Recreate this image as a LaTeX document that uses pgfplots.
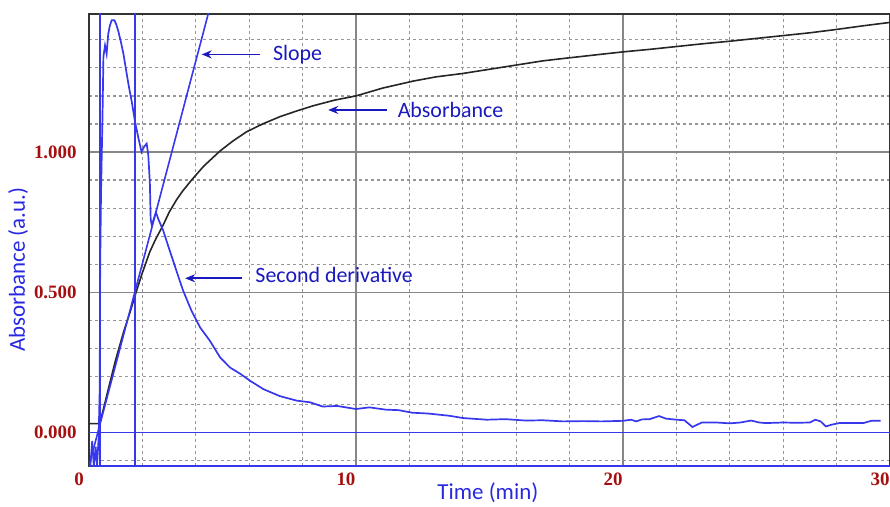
\documentclass[border=0pt]{standalone}
\usepackage{fontspec}
\setmainfont{Carlito}
\newfontfamily\tickfont{Liberation Serif}
\usepackage{pgfplots}
\pgfplotsset{compat=1.18}
\usetikzlibrary{arrows.meta}
\definecolor{lineblue}{RGB}{55,55,235}
\definecolor{textblue}{RGB}{25,25,190}
\definecolor{labelblue}{RGB}{40,40,225}
\definecolor{tickred}{RGB}{165,15,15}
\definecolor{gridgray}{RGB}{150,150,150}

\begin{document}
\begin{tikzpicture}
\begin{axis}[
    at={(0,0)}, anchor=south west,
    scale only axis, width=400.5bp, height=226bp,
    xmin=0, xmax=30, ymin=-0.119, ymax=1.492,
    xtick={0,10,20,30}, minor xtick={2,4,6,8,12,14,16,18,22,24,26,28},
    ytick={0,0.5,1}, minor ytick={-0.1,0.1,0.2,0.3,0.4,0.6,0.7,0.8,0.9,1.1,1.2,1.3,1.4},
    xticklabels={0,10,20,30}, yticklabels={0.000,0.500,1.000},
    major tick length=0pt, minor tick length=0pt,
    grid=both,
    major grid style={gridgray!90!black, line width=0.6bp},
    minor grid style={gridgray, line width=0.6bp, dash pattern=on 1.5bp off 1.5bp},
    axis line style={black!80, line width=0.9bp},
    tick label style={font=\tickfont\bfseries\fontsize{9.5}{10}\selectfont, text=tickred, inner sep=0pt},
    xticklabel style={anchor=north, xshift=-5bp, yshift=-3.5bp},
    yticklabel style={anchor=east, xshift=-6bp},
    xlabel={Time (min)}, ylabel={Absorbance (a.u.)},
    label style={font=\fontsize{11.5}{13}\selectfont, text=labelblue, inner sep=0pt},
    xlabel style={at={(axis description cs:0.498,0)}, anchor=center, yshift=-13.5bp},
    ylabel style={at={(axis description cs:-0.0886,0.434)}, anchor=center},
]
% absorbance
\addplot[black!85, line width=0.8bp] coordinates {
    (0,0.032) (0.40,0.032) (0.45,0.05) (0.79,0.18) (1.0,0.26) (1.3,0.36)
    (1.54,0.43) (1.78,0.505) (2.0,0.57) (2.28,0.645) (2.5,0.69) (2.78,0.74)
    (3.0,0.785) (3.28,0.83) (3.5,0.86) (3.84,0.90) (4.3,0.95) (4.91,1.004)
    (5.4,1.04) (5.9,1.072) (6.5,1.10) (7.15,1.126) (7.8,1.147) (8.4,1.165)
    (9.2,1.185) (10,1.20) (11,1.228) (12.15,1.253) (13,1.268) (14,1.28)
    (15,1.295) (16,1.31) (17,1.325) (18,1.336) (19.14,1.348) (20,1.357)
    (21,1.366) (22,1.376) (23,1.386) (24,1.395) (25,1.405) (26,1.415)
    (27,1.425) (28,1.437) (29,1.45) (30,1.462)
};
% second derivative
\addplot[lineblue, line width=0.85bp] coordinates {
    (0.05,-0.119) (0.12,-0.03) (0.18,-0.119) (0.25,-0.05) (0.3,-0.119)
    (0.36,-0.02) (0.40,0.15) (0.42,0.6) (0.45,0.85) (0.48,1.0) (0.51,1.15)
    (0.54,1.34) (0.60,1.38) (0.66,1.35) (0.72,1.42) (0.78,1.45) (0.85,1.47)
    (0.95,1.47) (1.02,1.455) (1.10,1.43) (1.2,1.39) (1.29,1.35) (1.41,1.28)
    (1.5,1.23) (1.60,1.18) (1.72,1.11) (1.85,1.05) (1.97,1.00) (2.07,1.02)
    (2.16,1.03) (2.22,0.99) (2.28,0.89) (2.31,0.76) (2.35,0.74) (2.42,0.76)
    (2.51,0.785) (2.6,0.76) (2.78,0.72) (2.95,0.67) (3.16,0.61) (3.35,0.555)
    (3.53,0.505) (3.84,0.434) (4.16,0.375) (4.53,0.327) (4.91,0.268)
    (5.28,0.232) (5.66,0.21) (6.03,0.185) (6.53,0.155) (7.15,0.13)
    (7.78,0.114) (8.28,0.108) (8.75,0.093) (9.3,0.095) (10,0.084)
    (10.5,0.09) (11.1,0.082) (11.6,0.08) (12.1,0.071) (12.7,0.068)
    (13.5,0.06) (14,0.052) (14.9,0.046) (15.6,0.048) (16.35,0.043)
    (17.0,0.044) (17.75,0.040) (18.5,0.041) (19.2,0.040) (20,0.042)
    (20.3,0.046) (20.5,0.040) (20.7,0.047) (21.0,0.048) (21.35,0.059)
    (21.6,0.050) (22,0.046) (22.3,0.044) (22.6,0.020) (22.95,0.036)
    (23.5,0.036) (24,0.033) (24.4,0.036) (24.8,0.043) (25.1,0.036)
    (25.35,0.034) (26,0.036) (26.5,0.035) (27.0,0.036) (27.2,0.046)
    (27.4,0.040) (27.6,0.022) (27.8,0.028) (28.1,0.034) (29,0.034)
    (29.3,0.042) (29.65,0.042)
};
% slope
\addplot[lineblue, line width=0.8bp] coordinates {(0,-0.119) (4.5,1.505)};
% markers
\addplot[lineblue, line width=0.85bp] coordinates {(0.41,-0.2) (0.41,1.6)};
\addplot[lineblue, line width=0.85bp] coordinates {(1.72,-0.2) (1.72,1.6)};
\addplot[lineblue, line width=0.85bp] coordinates {(0,0) (30,0)};
\draw[lineblue, line width=1.3bp] (rel axis cs:0,0) -- (rel axis cs:1,0);

% labels
\draw[textblue, line width=0.8bp, -{Stealth[length=5bp,width=4bp]}] (axis cs:6.40,1.348) -- (axis cs:4.22,1.348);
\node[anchor=west, inner sep=0pt, text=textblue, font=\fontsize{11}{13}\selectfont] at (axis cs:6.88,1.346) {Slope};
\draw[textblue, line width=0.8bp, -{Stealth[length=5bp,width=4bp]}] (axis cs:11.15,1.150) -- (axis cs:8.96,1.150);
\node[anchor=west, inner sep=0pt, text=textblue, font=\fontsize{11}{13}\selectfont] at (axis cs:11.55,1.150) {Absorbance};
\draw[textblue, line width=0.8bp, -{Stealth[length=5bp,width=4bp]}] (axis cs:5.72,0.55) -- (axis cs:3.60,0.55);
\node[anchor=west, inner sep=0pt, text=textblue, font=\fontsize{11}{13}\selectfont] at (axis cs:6.22,0.561) {Second derivative};
\end{axis}
\pgfresetboundingbox
\path[use as bounding box] (-44.5bp,-20.5bp) rectangle (400.5bp,233bp);
\end{tikzpicture}
\end{document}
